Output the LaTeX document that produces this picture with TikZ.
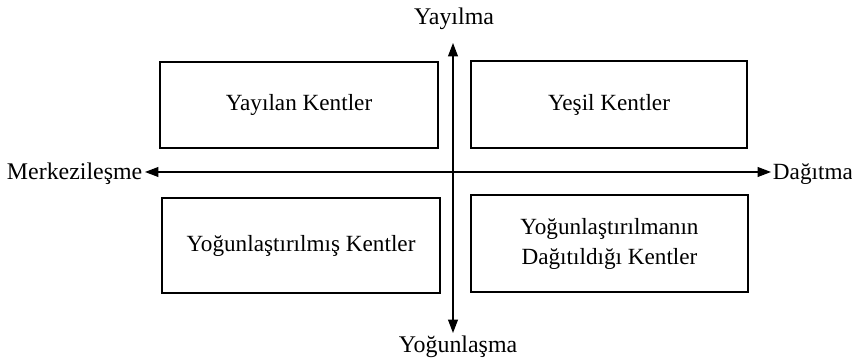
\documentclass[tikz,border=0pt]{standalone}
\usepackage{fontspec}
\setmainfont{Liberation Serif}
\usetikzlibrary{arrows.meta}
\tikzset{
	yazi/.style={font=\fontsize{16.5}{21.3}\selectfont},
	etiket/.style={font=\fontsize{17}{21}\selectfont},
	kutu/.style={yazi, draw, line width=2pt, inner sep=0pt, align=center},
	eksen/.style={line width=0.9pt, {Triangle[length=9.5pt,width=7pt]}-{Triangle[length=9.5pt,width=7pt]}},
}

\begin{document}
\begin{tikzpicture}
			%%%%% START %%%%%
			\useasboundingbox (0, 0) rectangle (21.3, 9.075);
			
			% dort bolge
			\node[kutu, minimum width=6.95cm, minimum height=2.15cm] (yayilan) at (7.475, 6.45) {Yayılan Kentler};
			\node[kutu, minimum width=6.9cm, minimum height=2.175cm] (yesil) at (15.225, 6.4625) {Yeşil Kentler};
			\node[kutu, minimum width=6.95cm, minimum height=2.375cm] (yogun) at (7.525, 2.9375) {Yoğunlaştırılmış Kentler};
			\node[kutu, minimum width=6.925cm, minimum height=2.425cm] (dagitilan) at (15.2375, 2.9875) {Yoğunlaştırılmanın\\Dağıtıldığı Kentler};
			
			% eksen adlari
			\node[etiket] (yayilma) at (11.35, 8.6) {Yayılma};
			\node[etiket] (yogunlasma) at (11.45, 0.4) {Yoğunlaşma};
			\node[etiket, anchor=east, inner sep=1pt] (merkez) at (3.6, 4.72) {Merkezileşme};
			\node[yazi, anchor=west, inner sep=0.5pt] (dagitma) at (19.3, 4.72) {Dağıtma};
			
			% eksenler
			\coordinate (ust) at (11.325, 8.0);
			\coordinate (alt) at (11.325, 0.75);
			\coordinate (sol) at (3.625, 4.775);
			\coordinate (sag) at (19.275, 4.775);
			\draw[eksen] (sol) -- (sag);
			\draw[eksen] (alt) -- (ust);
			
			%%%%% END %%%%%
\end{tikzpicture}
\end{document}
